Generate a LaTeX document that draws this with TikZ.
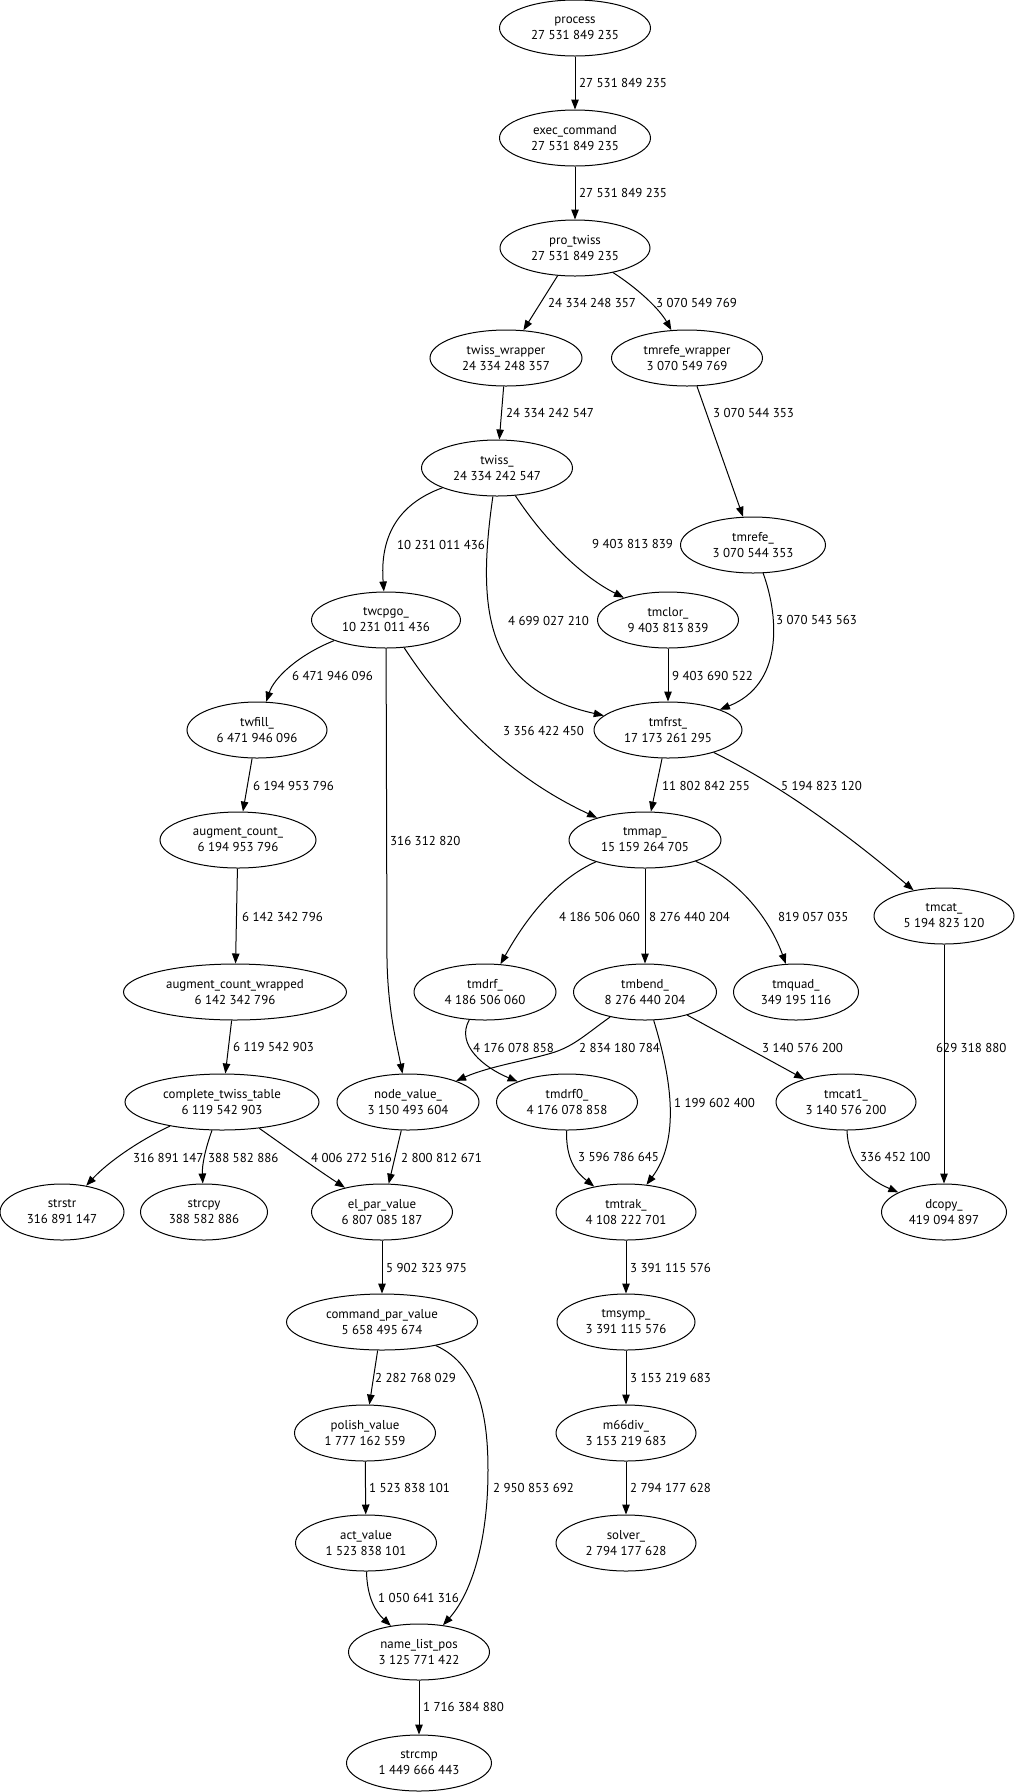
\documentclass[tikz,border=0pt]{standalone}
\usepackage{fontspec}
\setmainfont{PT Sans}
\usetikzlibrary{arrows.meta,shapes.geometric}
\tikzset{
  nd/.style={draw, ellipse, line width=1pt, inner sep=0pt, minimum height=56pt, align=center, font=\fontsize{12.9}{16}\selectfont},
  lbl/.style={anchor=west, inner sep=0pt, font=\fontsize{12.9}{16}\selectfont},
  cedge/.style={draw, line width=1pt, -{Triangle[length=10pt,width=7.5pt]}}
}
\begin{document}
\begin{tikzpicture}[x=1pt,y=-1pt]
\useasboundingbox[fill=white] (0,0) rectangle (1018,1792);
% nodes
\node[nd, minimum width=151pt] (process) at (575,28) {process\\27 531 849 235};
\node[nd, minimum width=151pt] (execcommand) at (575,138) {exec\_command\\27 531 849 235};
\node[nd, minimum width=150pt] (protwiss) at (575,248) {pro\_twiss\\27 531 849 235};
\node[nd, minimum width=152pt] (twisswrapper) at (506,358) {twiss\_wrapper\\24 334 248 357};
\node[nd, minimum width=151pt] (tmrefewrapper) at (687,358) {tmrefe\_wrapper\\3 070 549 769};
\node[nd, minimum width=151pt] (twiss) at (497,468) {twiss\_\\24 334 242 547};
\node[nd, minimum width=145pt] (tmrefe) at (753,545) {tmrefe\_\\3 070 544 353};
\node[nd, minimum width=149pt] (twcpgo) at (386,620) {twcpgo\_\\10 231 011 436};
\node[nd, minimum width=141pt] (tmclor) at (668,620) {tmclor\_\\9 403 813 839};
\node[nd, minimum width=140pt] (twfill) at (257,730) {twfill\_\\6 471 946 096};
\node[nd, minimum width=148pt] (tmfrst) at (668,730) {tmfrst\_\\17 173 261 295};
\node[nd, minimum width=156pt] (augmentcount) at (238,840) {augment\_count\_\\6 194 953 796};
\node[nd, minimum width=152pt] (tmmap) at (645,840) {tmmap\_\\15 159 264 705};
\node[nd, minimum width=140pt] (tmcat) at (944,916) {tmcat\_\\5 194 823 120};
\node[nd, minimum width=223pt] (augmentcountwrapped) at (235,992) {augment\_count\_wrapped\\6 142 342 796};
\node[nd, minimum width=142pt] (tmdrf) at (485,992) {tmdrf\_\\4 186 506 060};
\node[nd, minimum width=143pt] (tmbend) at (645,992) {tmbend\_\\8 276 440 204};
\node[nd, minimum width=125pt] (tmquad) at (796,992) {tmquad\_\\349 195 116};
\node[nd, minimum width=194pt] (completetwisstable) at (222,1102) {complete\_twiss\_table\\6 119 542 903};
\node[nd, minimum width=142pt] (nodevalue) at (408,1102) {node\_value\_\\3 150 493 604};
\node[nd, minimum width=141pt] (tmdrfzero) at (567,1102) {tmdrf0\_\\4 176 078 858};
\node[nd, minimum width=140pt] (tmcatone) at (846,1102) {tmcat1\_\\3 140 576 200};
\node[nd, minimum width=124pt] (strstr) at (62,1212) {strstr\\316 891 147};
\node[nd, minimum width=127pt] (strcpy) at (204,1212) {strcpy\\388 582 886};
\node[nd, minimum width=141pt] (elparvalue) at (382,1212) {el\_par\_value\\6 807 085 187};
\node[nd, minimum width=140pt] (tmtrak) at (626,1212) {tmtrak\_\\4 108 222 701};
\node[nd, minimum width=125pt] (dcopy) at (944,1212) {dcopy\_\\419 094 897};
\node[nd, minimum width=191pt] (commandparvalue) at (382,1322) {command\_par\_value\\5 658 495 674};
\node[nd, minimum width=138pt] (tmsymp) at (626,1322) {tmsymp\_\\3 391 115 576};
\node[nd, minimum width=141pt] (polishvalue) at (365,1433) {polish\_value\\1 777 162 559};
\node[nd, minimum width=140pt] (msixdiv) at (626,1433) {m66div\_\\3 153 219 683};
\node[nd, minimum width=141pt] (actvalue) at (366,1543) {act\_value\\1 523 838 101};
\node[nd, minimum width=140pt] (solver) at (626,1543) {solver\_\\2 794 177 628};
\node[nd, minimum width=141pt] (namelistpos) at (419,1652) {name\_list\_pos\\3 125 771 422};
\node[nd, minimum width=145pt] (strcmp) at (419,1763) {strcmp\\1 449 666 443};
% edges
\draw[cedge] (process) -- (execcommand);
\draw[cedge] (execcommand) -- (protwiss);
\draw[cedge] (protwiss) -- (twisswrapper);
\draw[cedge] (protwiss) .. controls (640,290) and (660,310) .. (tmrefewrapper);
\draw[cedge] (twisswrapper) -- (twiss);
\draw[cedge] (tmrefewrapper) -- (tmrefe);
\draw[cedge] (twiss) .. controls (395,505) and (380,540) .. (twcpgo);
\draw[cedge] (twiss) .. controls (475,620) and (490,690) .. (tmfrst);
\draw[cedge] (twiss) .. controls (548,545) and (585,578) .. (tmclor);
\draw[cedge] (tmrefe) .. controls (780,620) and (782,685) .. (tmfrst);
\draw[cedge] (tmclor) -- (tmfrst);
\draw[cedge] (twcpgo) .. controls (298,655) and (274,678) .. (twfill);
\draw[cedge] (twcpgo) -- (387,960) .. controls (388,1010) and (396,1040) .. (nodevalue);
\draw[cedge] (twcpgo) .. controls (445,710) and (505,775) .. (tmmap);
\draw[cedge] (tmfrst) -- (tmmap);
\draw[cedge] (tmfrst) .. controls (790,790) and (860,845) .. (tmcat);
\draw[cedge] (tmmap) .. controls (555,880) and (525,920) .. (tmdrf);
\draw[cedge] (tmmap) -- (tmbend);
\draw[cedge] (tmmap) .. controls (740,880) and (770,920) .. (tmquad);
\draw[cedge] (tmcat) -- (dcopy);
\draw[cedge] (twfill) -- (augmentcount);
\draw[cedge] (augmentcount) -- (augmentcountwrapped);
\draw[cedge] (augmentcountwrapped) -- (completetwisstable);
\draw[cedge] (tmdrf) .. controls (455,1045) and (485,1068) .. (tmdrfzero);
\draw[cedge] (tmbend) .. controls (585,1035) and (575,1045) .. (555,1052) .. controls (530,1060) and (490,1066) .. (nodevalue);
\draw[cedge] (tmbend) .. controls (672,1080) and (680,1140) .. (tmtrak);
\draw[cedge] (tmbend) -- (tmcatone);
\draw[cedge] (tmdrfzero) .. controls (566,1160) and (576,1172) .. (tmtrak);
\draw[cedge] (tmcatone) .. controls (848,1160) and (865,1178) .. (dcopy);
\draw[cedge] (completetwisstable) .. controls (140,1140) and (108,1162) .. (strstr);
\draw[cedge] (completetwisstable) .. controls (205,1150) and (202,1165) .. (strcpy);
\draw[cedge] (completetwisstable) .. controls (290,1150) and (315,1168) .. (elparvalue);
\draw[cedge] (nodevalue) -- (elparvalue);
\draw[cedge] (elparvalue) -- (commandparvalue);
\draw[cedge] (tmtrak) -- (tmsymp);
\draw[cedge] (commandparvalue) -- (polishvalue);
\draw[cedge] (commandparvalue) .. controls (480,1365) and (488,1420) .. (488,1470) .. controls (488,1545) and (470,1595) .. (namelistpos);
\draw[cedge] (polishvalue) -- (actvalue);
\draw[cedge] (actvalue) .. controls (367,1598) and (376,1612) .. (namelistpos);
\draw[cedge] (tmsymp) -- (msixdiv);
\draw[cedge] (msixdiv) -- (solver);
\draw[cedge] (namelistpos) -- (strcmp);
% edge labels
\node[lbl] (la) at (579,83) {27 531 849 235};
\node[lbl] (lb) at (579,193) {27 531 849 235};
\node[lbl] (lc) at (548,303) {24 334 248 357};
\node[lbl] (ld) at (656,303) {3 070 549 769};
\node[lbl] (le) at (506,413) {24 334 242 547};
\node[lbl] (lf) at (713,413) {3 070 544 353};
\node[lbl] (lg) at (397,545) {10 231 011 436};
\node[lbl] (lh) at (592,544) {9 403 813 839};
\node[lbl] (li) at (508,621) {4 699 027 210};
\node[lbl] (lj) at (776,620) {3 070 543 563};
\node[lbl] (lk) at (292,676) {6 471 946 096};
\node[lbl] (ll) at (672,676) {9 403 690 522};
\node[lbl] (lm) at (503,731) {3 356 422 450};
\node[lbl] (ln) at (253,786) {6 194 953 796};
\node[lbl] (lo) at (662,786) {11 802 842 255};
\node[lbl] (lp) at (781,786) {5 194 823 120};
\node[lbl] (lq) at (390,841) {316 312 820};
\node[lbl] (lr) at (242,917) {6 142 342 796};
\node[lbl] (ls) at (559,917) {4 186 506 060};
\node[lbl] (lt) at (649,917) {8 276 440 204};
\node[lbl] (lu) at (778,917) {819 057 035};
\node[lbl] (lv) at (233,1047) {6 119 542 903};
\node[lbl] (lw) at (473,1048) {4 176 078 858};
\node[lbl] (lx) at (579,1048) {2 834 180 784};
\node[lbl] (ly) at (762,1048) {3 140 576 200};
\node[lbl] (lz) at (936,1048) {629 318 880};
\node[lbl] (maa) at (674,1103) {1 199 602 400};
\node[lbl] (mab) at (133,1158) {316 891 147};
\node[lbl] (mac) at (208,1158) {388 582 886};
\node[lbl] (mad) at (311,1158) {4 006 272 516};
\node[lbl] (mae) at (401,1158) {2 800 812 671};
\node[lbl] (maf) at (578,1157) {3 596 786 645};
\node[lbl] (mag) at (860,1157) {336 452 100};
\node[lbl] (mah) at (386,1268) {5 902 323 975};
\node[lbl] (mai) at (630,1268) {3 391 115 576};
\node[lbl] (maj) at (375,1378) {2 282 768 029};
\node[lbl] (mak) at (630,1378) {3 153 219 683};
\node[lbl] (mal) at (369,1488) {1 523 838 101};
\node[lbl] (mam) at (493,1488) {2 950 853 692};
\node[lbl] (man) at (630,1488) {2 794 177 628};
\node[lbl] (mao) at (378,1598) {1 050 641 316};
\node[lbl] (map) at (423,1707) {1 716 384 880};
\end{tikzpicture}
\end{document}
